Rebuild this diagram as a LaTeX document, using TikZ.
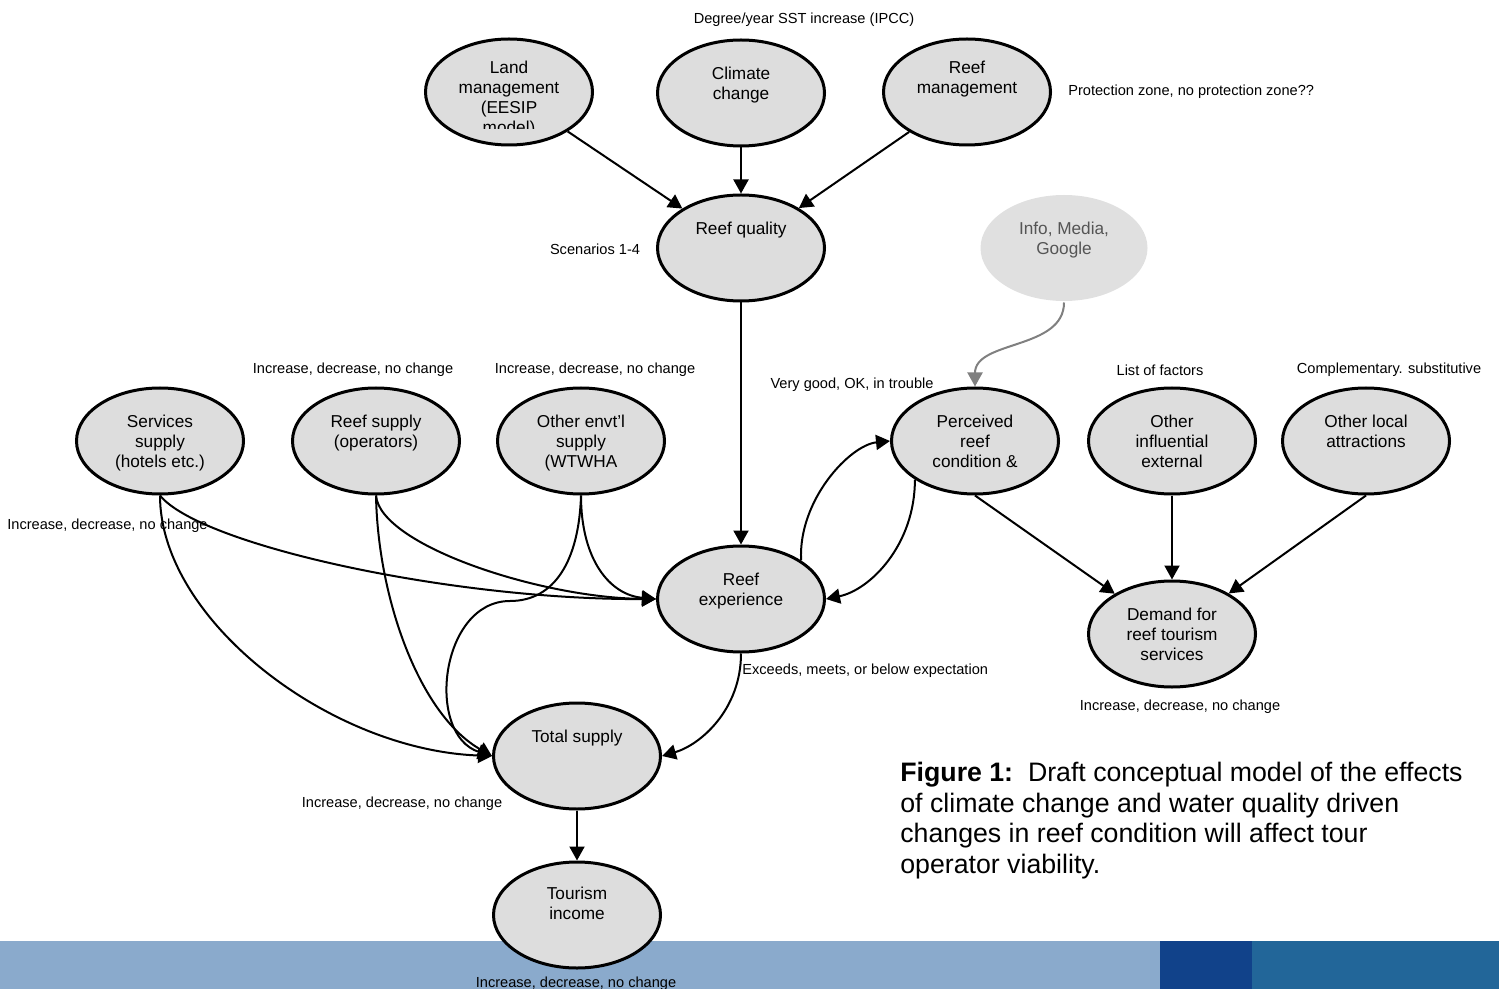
\documentclass[tikz,border=0pt]{standalone}
\usepackage{fontspec}
\setmainfont{Liberation Sans}
\usetikzlibrary{shapes.geometric,arrows.meta}

\definecolor{nodefill}{HTML}{DDDDDD}
\definecolor{infofill}{HTML}{E0E0E0}
\definecolor{infotext}{HTML}{555555}
\definecolor{linkgray}{HTML}{808080}
\definecolor{barlight}{HTML}{8AAACC}
\definecolor{bardark}{HTML}{11428A}
\definecolor{barmid}{HTML}{226699}

\tikzset{
  var/.style={ellipse, draw=black, line width=0.6mm, fill=nodefill,
    minimum width=33.4mm, minimum height=21.2mm, inner sep=0pt},
  vtext/.style={anchor=north, align=center, inner sep=0pt,
    font=\fontsize{9.8}{11.4}\selectfont},
  note/.style={inner sep=0pt, font=\fontsize{8.3}{10}\selectfont},
  arr/.style={line width=0.4mm, -{Triangle[length=2.8mm,width=3mm]}},
  grayarr/.style={line width=0.4mm, draw=linkgray,
    -{Triangle[length=2.8mm,width=3mm,fill=linkgray]}}
}

\begin{document}
\begin{tikzpicture}[x=0.2mm,y=-0.2mm]
  \useasboundingbox (0,0) rectangle (1499,989);

  % bottom bar
  \fill[barlight] (0,941) rectangle (1160,989);
  \fill[bardark] (1160,941) rectangle (1252,989);
  \fill[barmid] (1252,941) rectangle (1499,989);

  % variables
  \node[var] (lm) at (509,92) {};
  \node[var] (cc) at (741,93) {};
  \node[var] (rm) at (967,92) {};
  \node[var] (rq) at (741,248) {};
  \node[var, draw=none, fill=infofill] (im) at (1064,248) {};
  \node[var] (ss) at (160,441) {};
  \node[var] (rs) at (376,441) {};
  \node[var] (oe) at (581,441) {};
  \node[var] (pr) at (975,441) {};
  \node[var] (oi) at (1172,441) {};
  \node[var] (ol) at (1366,441) {};
  \node[var] (re) at (741,599) {};
  \node[var] (de) at (1172,634) {};
  \node[var] (ts) at (577,756) {};
  \node[var] (ti) at (577,915) {};

  % texts of the variables
  \begin{scope}
    \clip (420,50) rectangle (600,129);
    \node[vtext] (lmt) at (509,61) {Land\\management\\(EESIP\\model)};
  \end{scope}
  \node[vtext] (cct) at (741,67) {Climate\\change};
  \node[vtext] (rmt) at (967,61) {Reef\\management};
  \node[vtext] (rqt) at (741,222) {Reef quality};
  \node[vtext, text=infotext] (imt) at (1064,222) {Info, Media,\\Google};
  \node[vtext] (sst) at (160,415) {Services\\supply\\(hotels etc.)};
  \node[vtext] (rst) at (376,415) {Reef supply\\(operators)};
  \node[vtext] (oet) at (581,415) {Other envt'l\\supply\\(WTWHA};
  \node[vtext] (prt) at (975,415) {Perceived\\reef\\condition \&};
  \node[vtext] (oit) at (1172,415) {Other\\influential\\external};
  \node[vtext] (olt) at (1366,415) {Other local\\attractions};
  \node[vtext] (ret) at (741,573) {Reef\\experience};
  \node[vtext] (det) at (1172,608) {Demand for\\reef tourism\\services};
  \node[vtext] (tst) at (577,730) {Total supply};
  \node[vtext] (tit) at (577,887) {Tourism\\income};

  % states
  \node[note] (sst1) at (804,20) {Degree/year SST increase (IPCC)};
  \node[note, anchor=west] (pz) at (1068,92) {Protection zone, no protection zone??};
  \node[note] (scn) at (595,249) {Scenarios 1-4};
  \node[note] (rs1) at (353,370) {Increase, decrease, no change};
  \node[note] (oe1) at (595,370) {Increase, decrease, no change};
  \node[note] (pr1) at (852,385) {Very good, OK, in trouble};
  \node[note] (oi1) at (1160,370) {List of factors};
  \node[note] (ol1) at (1389,370) {Complementary. substitutive};
  \node[note, anchor=west] (ss1) at (7,526) {Increase, decrease, no change};
  \node[note, anchor=west] (re1) at (742,671) {Exceeds, meets, or below expectation};
  \node[note] (de1) at (1180,707) {Increase, decrease, no change};
  \node[note] (ts1) at (402,804) {Increase, decrease, no change};
  \node[note] (ti1) at (576,984) {Increase, decrease, no change};

  % links
  \draw[arr] (lm) -- (rq);
  \draw[arr] (cc) -- (rq);
  \draw[arr] (rm) -- (rq);
  \draw[arr] (rq) -- (re);
  \draw[grayarr] (im.south) .. controls (1064,350) and (975,340) .. (pr.north);
  \draw[arr] (re.north east) .. controls (798,500) and (850,445) .. (pr.west);
  \draw[arr] (pr.south west) .. controls (915,545) and (870,590) .. (re.east);
  \draw[arr] (ss.south) .. controls (200,545) and (450,600) .. (re.west);
  \draw[arr] (ss.south) .. controls (160,620) and (330,750) .. (ts.west);
  \draw[arr] (rs.south) .. controls (380,545) and (540,598) .. (re.west);
  \draw[arr] (rs.south) .. controls (378,600) and (420,715) .. (ts.west);
  \draw[arr] (oe.south) .. controls (581,560) and (610,595) .. (re.west);
  \draw[arr] (oe.south) .. controls (579,560) and (555,601) .. (510,601)
    .. controls (440,601) and (425,735) .. (ts.west);
  \draw[arr] (re.south) .. controls (741,710) and (700,745) .. (ts.east);
  \draw[arr] (pr.south) -- (de);
  \draw[arr] (oi) -- (de);
  \draw[arr] (ol.south) -- (de);
  \draw[arr] (ts) -- (ti);

  % caption
  \node[anchor=north west, align=left, inner sep=0pt,
    font=\fontsize{15.2}{17.4}\selectfont] (cap) at (900,762)
    {\textbf{Figure 1:}\ \ Draft conceptual model of the effects\\
     of climate change and water quality driven\\
     changes in reef condition will affect tour\\
     operator viability.};
\end{tikzpicture}
\end{document}
